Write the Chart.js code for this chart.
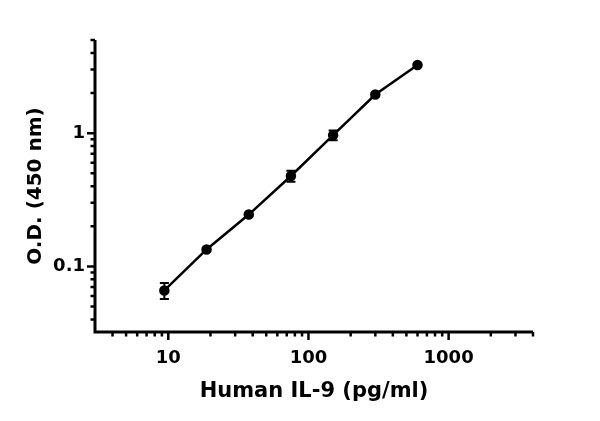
<!DOCTYPE html>
<html><head><meta charset="utf-8">
<script src="https://cdn.jsdelivr.net/npm/chart.js@4.4.0/dist/chart.umd.min.js"></script>
<style>html,body{margin:0;padding:0;background:#fff}#w{width:600px;height:421px}</style>
</head><body><div id="w"><canvas id="c" width="600" height="421"></canvas></div>
<script>
const concentrations = [9.375, 18.75, 37.5, 75, 150, 300, 600];
const odValues = [0.066, 0.134, 0.245, 0.477, 0.966, 1.95, 3.25];
const odErrors = [0.009, 0.004, 0.006, 0.045, 0.08, 0.05, 0.06];
const xMajorTicks = [10, 100, 1000];
const xMinorTicks = [4,5,6,7,8,9,20,30,40,50,60,70,80,90,200,300,400,500,600,700,800,900,2000,3000,4000];
const yMajorTicks = [0.1, 1];
const yMinorTicks = [0.04,0.05,0.06,0.07,0.08,0.09,0.2,0.3,0.4,0.5,0.6,0.7,0.8,0.9,2,3,4,5];
const FONT = "'DejaVu Sans', sans-serif";

const points = concentrations.map((x, i) => ({x, y: odValues[i]}));

const customTicks = {
  id: 'customTicks',
  afterDraw(chart) {
    const ctx = chart.ctx, xs = chart.scales.x, ys = chart.scales.y;
    const ca = chart.chartArea;
    ctx.save();
    ctx.strokeStyle = '#000';
    ctx.lineWidth = 2.5;
    ctx.lineCap = 'butt';
    const axX = ca.left, axY = ca.bottom;
    ctx.beginPath();
    xMajorTicks.forEach(v => { const p = xs.getPixelForValue(v); ctx.moveTo(p, axY); ctx.lineTo(p, axY + 8); });
    xMinorTicks.forEach(v => { const p = xs.getPixelForValue(v); ctx.moveTo(p, axY); ctx.lineTo(p, axY + 4.5); });
    yMajorTicks.forEach(v => { const p = ys.getPixelForValue(v); ctx.moveTo(axX, p); ctx.lineTo(axX - 8, p); });
    yMinorTicks.forEach(v => { const p = ys.getPixelForValue(v); ctx.moveTo(axX, p); ctx.lineTo(axX - 4.5, p); });
    ctx.stroke();
    ctx.lineWidth = 3;
    ctx.beginPath();
    ctx.moveTo(axX, ca.top); ctx.lineTo(axX, axY + 1.5);
    ctx.moveTo(axX - 1.5, axY); ctx.lineTo(ca.right, axY);
    ctx.stroke();
    ctx.restore();
  }
};

const errorBars = {
  id: 'errorBars',
  afterDatasetsDraw(chart) {
    const ctx = chart.ctx, xs = chart.scales.x, ys = chart.scales.y;
    ctx.save();
    ctx.strokeStyle = '#000';
    ctx.lineWidth = 2;
    concentrations.forEach((c, i) => {
      const px = xs.getPixelForValue(c);
      const top = ys.getPixelForValue(odValues[i] + odErrors[i]);
      const bot = ys.getPixelForValue(odValues[i] - odErrors[i]);
      ctx.beginPath();
      ctx.moveTo(px, top); ctx.lineTo(px, bot);
      ctx.moveTo(px - 4.5, top); ctx.lineTo(px + 4.5, top);
      ctx.moveTo(px - 4.5, bot); ctx.lineTo(px + 4.5, bot);
      ctx.stroke();
    });
    ctx.restore();
  }
};

new Chart(document.getElementById('c'), {
  type: 'scatter',
  data: { datasets: [{
    data: points,
    showLine: true,
    borderColor: '#000',
    backgroundColor: '#000',
    borderWidth: 2.5,
    pointRadius: 4,
    pointHoverRadius: 4,
    tension: 0
  }]},
  options: {
    responsive: false,
    animation: false,
    events: [],
    layout: { padding: { left: 0, right: 67, top: 40, bottom: 17 } },
    plugins: { legend: { display: false }, tooltip: { enabled: false } },
    scales: {
      x: {
        type: 'logarithmic', min: 3, max: 4000,
        afterBuildTicks(s) { s.ticks = xMajorTicks.map(v => ({value: v})); },
        afterFit(s) { s.height = 72; },
        grid: { display: false, drawTicks: false },
        border: { display: false },
        ticks: { color: '#000', font: { family: FONT, size: 18, weight: 'bold' }, padding: 16, maxRotation: 0, autoSkip: false,
                 callback: v => String(v) },
        title: { display: true, text: 'Human IL-9 (pg/ml)', color: '#000', font: { family: FONT, size: 21, weight: 'bold' }, padding: { top: 0, bottom: 0 } }
      },
      y: {
        type: 'logarithmic', min: 0.0322, max: 5,
        afterBuildTicks(s) { s.ticks = yMajorTicks.map(v => ({value: v})); },
        afterFit(s) { s.width = 95; },
        grid: { display: false, drawTicks: false },
        border: { display: false },
        ticks: { color: '#000', font: { family: FONT, size: 18, weight: 'bold' }, padding: 10, autoSkip: false,
                 callback: v => String(v) },
        title: { display: true, text: 'O.D. (450 nm)', color: '#000', font: { family: FONT, size: 20, weight: 'bold' }, padding: { top: 24, bottom: 0 } }
      }
    }
  },
  plugins: [customTicks, errorBars]
});
</script>
</body></html>
